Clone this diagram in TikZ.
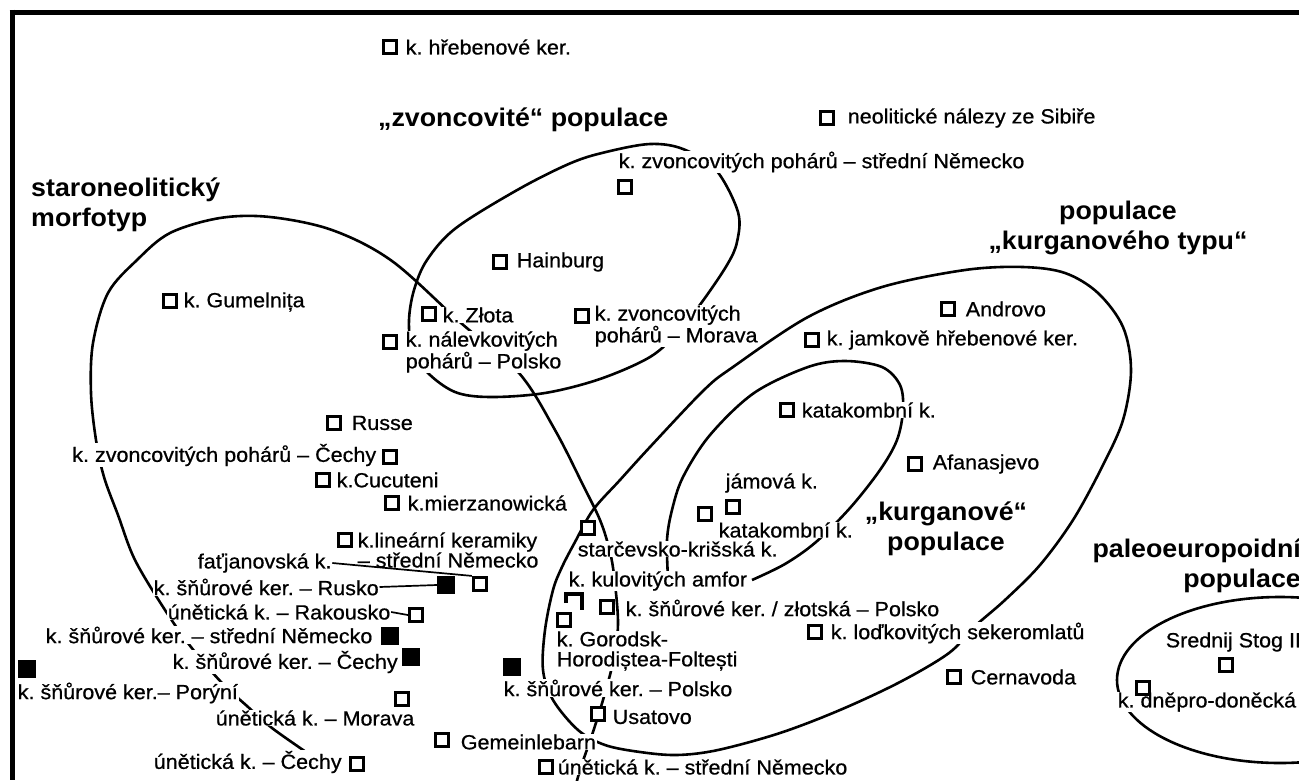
\documentclass[tikz,border=0pt]{standalone}
\usepackage{fontspec}
\setmainfont{Liberation Sans}[FakeStretch=1.05, UprightFeatures={FakeBold=0.7}]
\begin{document}
\frenchspacing
\begin{tikzpicture}[x=1pt,y=-1pt,
  lbl/.style={font={\fontsize{20.5}{20}\selectfont}, fill=white, inner sep=0.6pt, anchor=west},
  lblr/.style={lbl, anchor=east},
  hdr/.style={font={\fontsize{25.5}{30}\selectfont\bfseries}, inner sep=0pt},
  osq/.style={draw, line width=3.4pt, fill=white, minimum size=12.8pt, inner sep=0pt},
  fsq/.style={fill=black, minimum size=17.5pt, inner sep=0pt},
  curve/.style={line width=2.6pt},
  conn/.style={line width=1.7pt},
  frame/.style={line width=5pt}]
\useasboundingbox (0,0) rectangle (1299,780);
\clip (0,0) rectangle (1299,780);
\fill[white] (0,0) rectangle (1299,780);

% curves
% staroneoliticky morfotyp
\draw[curve] plot[smooth, tension=0.55] coordinates {(318,762) (313,757) (272,728) (247,706) (222,683) (191,647) (165,610) (135,560) (118,515) (104,477) (96,440) (91,393) (93,343) (108,293) (137,260) (170,233) (220,218) (270,217) (332,230) (392,261) (461,323) (519,373) (555,430) (583,485) (600,520) (609,548) (614,575) (618,624) (613,662) (603,700) (592,735) (580,770) (572,800)};
% zvoncovite populace
\draw[curve] plot[smooth cycle, tension=0.55] coordinates {(606,152) (650,144) (683,149) (716,170) (738,212) (737,242) (727,265) (702,302) (678,332) (650,357) (600,379) (545,393) (490,397) (455,392) (427,372) (412,347) (409,320) (414,290) (427,260) (456,228) (519,189) (571,163)};
% populace kurganoveho typu
\draw[curve] plot[smooth cycle, tension=0.55] coordinates {(1023,267) (1065,273) (1098,293) (1123,327) (1131,370) (1123,420) (1102,467) (1073,520) (1040,565) (1005,600) (974,627) (949,653) (900,682) (840,710) (780,733) (718,750) (677,755) (640,752) (605,745) (578,730) (553,700) (543,670) (545,630) (553,590) (562,567) (575,542) (593,510) (620,480) (650,447) (704,390) (733,367) (808,317) (882,287) (965,270)};
% kurganove populace
\draw[curve] plot[smooth, tension=0.55] coordinates {(668,578) (667,540) (672,510) (683,477) (710,435) (754,393) (808,367) (845,361) (882,367) (900,385) (903,410) (897,440) (880,470) (850,508) (816,542) (785,564) (752,580)};
% paleoeuropoidni populace
\draw[curve] (1280,680) ellipse [x radius=163pt, y radius=83pt];

% headings
\node[hdr, anchor=west] (h1) at (378,120) {„zvoncovité“ populace};
\node[hdr, anchor=west, align=left] (h2) at (31,205) {staroneolitický\\morfotyp};
\node[hdr, align=center] (h3) at (1118,228) {populace\\„kurganového typu“};
\node[hdr, align=center] (h4) at (946,529) {„kurganové“\\populace};
\node[hdr, align=right, anchor=east] (h5) at (1301,566) {paleoeuropoidní\\populace};

% labels
\node[lbl] (t1) at (405,47) {k. hřebenové ker.};
\node[lbl] (t2) at (847,118) {neolitické nálezy ze Sibiře};
\node[lbl] (t3) at (618,162) {k. zvoncovitých pohárů – střední Německo};
\node[lbl] (t4) at (516,262) {Hainburg};
\node[lbl] (t5) at (183,302) {k. Gumelnița};
\node[lbl] (t6) at (442,315) {k. Złota};
\node[lbl, align=left] (t7) at (594,326) {k. zvoncovitých\\pohárů – Morava};
\node[lbl, align=left] (t8) at (405,352) {k. nálevkovitých\\pohárů – Polsko};
\node[lbl] (t9) at (965,309) {Androvo};
\node[lbl] (t10) at (826,340) {k. jamkově hřebenové ker.};
\node[lbl] (t11) at (801,410) {katakombní k.};
\node[lbl] (t12) at (351,423) {Russe};
\node[lblr] (t13) at (377,455) {k. zvoncovitých pohárů – Čechy};
\node[lbl] (t14) at (336,480) {k.Cucuteni};
\node[lbl] (t15) at (932,464) {Afanasjevo};
\node[lbl] (t16) at (725,483) {jámová k.};
\node[lbl] (t17) at (407,503) {k.mierzanowická};
\node[lbl] (t18) at (718,530) {katakombní k.};
\node[lbl, align=left] (t19) at (357,550) {k.lineární keramiky\\– střední Německo};
\node[lbl] (t20) at (577,549) {starčevsko-krišská k.};
\node[lbl] (t21) at (197,563) {faťjanovská k.};
\node[lbl] (t22) at (153,587) {k. šňůrové ker. – Rusko};
\node[lbl] (t23) at (568,581) {k. kulovitých amfor};
\node[lbl] (t24) at (167,612) {únětická k. – Rakousko};
\node[lbl] (t25) at (625,608) {k. šňůrové ker. / złotská – Polsko};
\node[lbl] (t26) at (45,635) {k. šňůrové ker. – střední Německo};
\node[lbl] (t27) at (830,633) {k. loďkovitých sekeromlatů};
\node[lbl, align=left] (t28) at (556,651) {k. Gorodsk-\\Horodiștea-Foltești};
\node[lbl] (t29) at (172,662) {k. šňůrové ker. – Čechy};
\node[lbl] (t30) at (17,693) {k. šňůrové ker.– Porýní};
\node[lbl] (t31) at (503,688) {k. šňůrové ker. – Polsko};
\node[lbl] (t32) at (1165,642) {Srednij Stog II};
\node[lbl] (t33) at (970,677) {Cernavoda};
\node[lbl] (t34) at (1117,702) {k. dněpro-doněcká};
\node[lbl] (t35) at (215,718) {únětická k. – Morava};
\node[lbl] (t36) at (612,717) {Usatovo};
\node[lbl] (t37) at (460,742) {Gemeinlebarn};
\node[lbl] (t38) at (153,762) {únětická k. – Čechy};
\node[lbl] (t39) at (557,767) {únětická k. – střední Německo};

% squares
\node[osq] (s1) at (390,47) {};
\node[osq] (s2) at (827,118) {};
\node[osq] (s3) at (625,187) {};
\node[osq] (s4) at (500,262) {};
\node[osq] (s5) at (170,301) {};
\node[osq] (s6) at (429,314) {};
\node[osq] (s7) at (582,316) {};
\node[osq] (s8) at (390,342) {};
\node[osq] (s9) at (948,309) {};
\node[osq] (s10) at (812,340) {};
\node[osq] (s11) at (787,410) {};
\node[osq] (s12) at (334,423) {};
\node[osq] (s13) at (390,457) {};
\node[osq] (s14) at (323,480) {};
\node[osq] (s15) at (915,464) {};
\node[osq] (s16) at (733,507) {};
\node[osq] (s17) at (705,514) {};
\node[osq] (s18) at (392,503) {};
\node[osq] (s19) at (345,540) {};
\node[osq] (s20) at (588,528) {};
\node[fsq] (f1) at (446,585) {};
\node[osq] (s21) at (480,584) {};
\node[osq] (s22) at (416,615) {};
\node[osq] (s23) at (564,620) {};
\node[osq] (s24) at (607,607) {};
\node[fsq] (f2) at (390,636) {};
\node[osq] (s25) at (815,632) {};
\node[fsq] (f3) at (411,657) {};
\node[fsq] (f4) at (27,669) {};
\node[fsq] (f5) at (512,667) {};
\node[osq] (s26) at (1226,665) {};
\node[osq] (s27) at (954,677) {};
\node[osq] (s28) at (1143,688) {};
\node[osq] (s29) at (402,699) {};
\node[osq] (s30) at (598,714) {};
\node[osq] (s31) at (442,740) {};
\node[osq] (s32) at (357,764) {};
\node[osq] (s33) at (546,767) {};
% broken square
\coordinate (bq1) at (566,603);
\coordinate (bq2) at (566,594);
\coordinate (bq3) at (582,594);
\coordinate (bq4) at (582,610);
\draw[line width=3.2pt] (bq1) -- (bq2) -- (bq3) -- (bq4);

% connectors
\draw[conn] (t21.east) -- (s21.north west);
\draw[conn] (t22.east) -- (f1.west);
\draw[conn] (t24.east) -- (s22.west);

% frame
\draw[frame] (9.5,12) -- (1299,12);
\draw[frame] (12,9.5) -- (12,780);
\end{tikzpicture}
\end{document}
